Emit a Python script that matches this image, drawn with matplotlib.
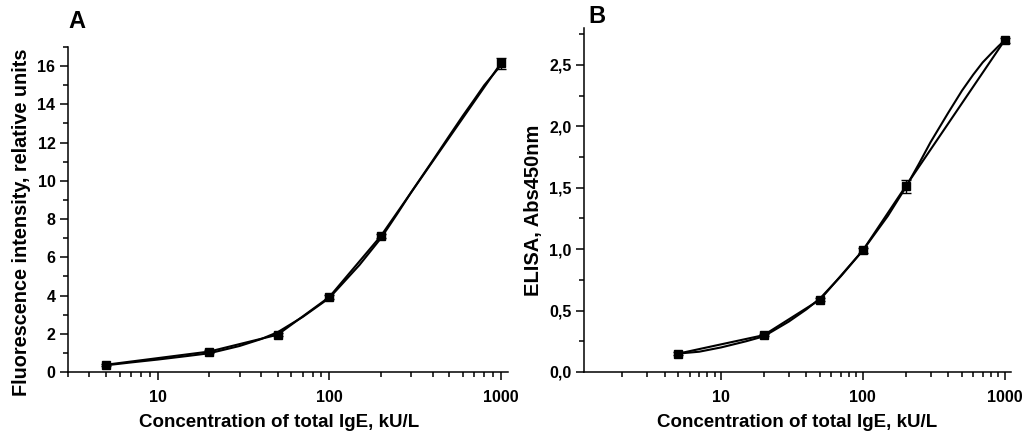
import matplotlib.pyplot as plt
from matplotlib.ticker import MultipleLocator, FixedLocator, LogLocator, NullFormatter, FuncFormatter

plt.rcParams['font.family'] = ['Liberation Sans', 'DejaVu Sans']
plt.rcParams['font.weight'] = 'bold'

# concentration of total IgE, kU/L
conc = [5, 20, 50, 100, 200, 1000]

# panel A: fluorescence, relative units
fluor = [0.38, 1.07, 1.95, 3.92, 7.12, 16.15]
fluor_err = [0.05, 0.06, 0.08, 0.10, 0.12, 0.30]

# panel B: ELISA, Abs450nm
elisa = [0.15, 0.30, 0.59, 0.99, 1.51, 2.70]
elisa_err = [0.01, 0.01, 0.015, 0.02, 0.05, 0.02]

# fitted curves
fit_conc = [5, 7, 10, 15, 20, 30, 40, 50, 70, 100, 150, 200, 250, 300, 400, 500, 600, 700, 800, 900, 1000]
fluor_fit = [0.35, 0.50, 0.65, 0.84, 0.98, 1.36, 1.72, 2.08, 2.88, 3.87, 5.6, 7.0, 8.3, 9.4, 11.05,
             12.35, 13.4, 14.25, 15.0, 15.55, 16.05]
elisa_fit = [0.15, 0.165, 0.20, 0.25, 0.29, 0.41, 0.51, 0.60, 0.78, 0.99, 1.27, 1.50, 1.70, 1.87, 2.11,
             2.29, 2.42, 2.52, 2.59, 2.65, 2.70]

fig = plt.figure(figsize=(10.25, 4.38), dpi=100)
axA = fig.add_axes([0.0663, 0.1507, 0.4293, 0.742])
axB = fig.add_axes([0.5698, 0.1507, 0.4166, 0.7853])


def style(ax):
    ax.set_xscale('log')
    for s in ['top', 'right']:
        ax.spines[s].set_visible(False)
    for s in ['left', 'bottom']:
        ax.spines[s].set_linewidth(1.1)
    ax.xaxis.set_major_locator(FixedLocator([10, 100, 1000]))
    ax.xaxis.set_major_formatter(FuncFormatter(lambda v, p: f"{int(v)}"))
    ax.xaxis.set_minor_locator(LogLocator(base=10, subs=range(2, 10)))
    ax.xaxis.set_minor_formatter(NullFormatter())
    ax.tick_params(which='major', length=6, width=1.1, labelsize=11.5)
    ax.tick_params(which='minor', length=3.5, width=1.1)
    ax.tick_params(axis='x', which='major', pad=7)
    ax.tick_params(axis='y', which='major', pad=3)
    ax.set_xlabel('Concentration of total IgE, kU/L', fontsize=13.5, fontweight='bold')


for ax, y, err, fit in [(axA, fluor, fluor_err, fluor_fit), (axB, elisa, elisa_err, elisa_fit)]:
    style(ax)
    ax.plot(fit_conc, fit, color='black', lw=1.5, zorder=2)
    ax.errorbar(conc, y, yerr=err, color='black', lw=1.5, marker='s', markersize=6,
                capsize=3.5, elinewidth=1, capthick=1, zorder=3)

axA.set_xlim(3, 1100)
axA.set_ylim(0, 17)
axA.yaxis.set_major_locator(MultipleLocator(2))
axA.yaxis.set_minor_locator(MultipleLocator(1))
axA.set_ylabel('Fluorescence intensity, relative units', fontsize=14.3, fontweight='bold')
axA.yaxis.set_label_coords(-0.083, 0.46)
axA.xaxis.set_label_coords(0.48, -0.13)

axB.set_xlim(1.08, 1110)
axB.set_ylim(0, 2.8)
axB.yaxis.set_major_locator(MultipleLocator(0.5))
axB.yaxis.set_minor_locator(MultipleLocator(0.25))
axB.yaxis.set_major_formatter(FuncFormatter(lambda v, p: f"{v:.1f}".replace('.', ',')))
axB.set_ylabel('ELISA, Abs450nm', fontsize=14.5, fontweight='bold')
axB.yaxis.set_label_coords(-0.096, 0.47)
axB.xaxis.set_label_coords(0.5, -0.122)

fig.text(0.0663, 0.952, 'A', fontsize=17, fontweight='bold', ha='left', va='center')
fig.text(0.574, 0.963, 'B', fontsize=17, fontweight='bold', ha='left', va='center')

fig.savefig('out.png', dpi=100)
